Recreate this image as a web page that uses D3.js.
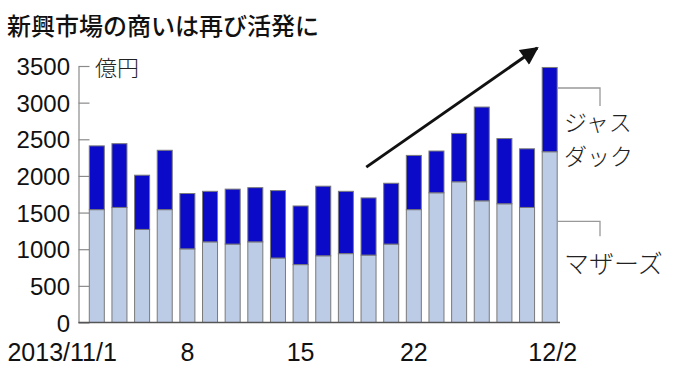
<!DOCTYPE html>
<html><head><meta charset="utf-8">
<script src="https://cdn.jsdelivr.net/npm/d3@7"></script>
<style>
html,body{margin:0;padding:0;background:#fff;}
svg{display:block;}
</style></head>
<body>
<svg id="c" width="680" height="378"></svg>
<script>
const dates = ["11/1","11/5","11/6","11/7","11/8","11/11","11/12","11/13","11/14","11/15","11/18","11/19","11/20","11/21","11/22","11/25","11/26","11/27","11/28","11/29","12/2"];
const mothers = [1540,1570,1270,1540,1005,1100,1070,1100,880,790,910,940,920,1070,1540,1770,1920,1660,1620,1570,2330];
const totals  = [2410,2440,2010,2350,1760,1790,1820,1840,1800,1590,1860,1790,1700,1900,2280,2340,2580,2940,2510,2370,3480];
const jasdaq = totals.map((t,i)=>t-mothers[i]);
const yTicks = [0,500,1000,1500,2000,2500,3000,3500];
const xLabels = {"11/1":"2013/11/1","11/8":"8","11/15":"15","11/22":"22","12/2":"12/2"};
const seriesNames = ["マザーズ","ジャスダック"];

const svg = d3.select("#c");
const CJK = "'Noto Sans CJK JP','Noto Sans',sans-serif";
const NUM = "'Liberation Sans',Arial,sans-serif";

const y = d3.scaleLinear().domain([0,3500]).range([322.5,66]);
const x = d3.scaleBand().domain(dates).range([82.5,564]).paddingInner(0.337).paddingOuter(0.3);

// title
svg.append("text").attr("x",7).attr("y",24).attr("dominant-baseline","central")
  .style("font-family",CJK).style("font-size","24px").style("font-weight","500").attr("fill","#111")
  .text("新興市場の商いは再び活発に");

// y axis
const yAxis = d3.axisLeft(y).tickValues(yTicks).tickFormat(d3.format("d")).tickSizeInner(-11).tickSizeOuter(0).tickPadding(8.5);
const gy = svg.append("g").attr("transform","translate(78.5,0)").call(yAxis);
gy.select(".domain").attr("stroke","#8a8a8a").attr("stroke-width",1.2);
gy.selectAll(".tick line").attr("stroke","#8a8a8a").attr("stroke-width",1.2);
gy.selectAll(".tick text").style("font-family",NUM).style("font-size","24px").attr("fill","#111")
  .attr("dy",null).attr("dominant-baseline","central");
svg.append("text").attr("x",95).attr("y",y(3500)).attr("dominant-baseline","central")
  .style("font-family",CJK).style("font-size","22px").style("font-weight","300").attr("fill","#222").text("億円");

// stacked bars
const stackData = dates.map((d,i)=>({date:d, m:mothers[i], j:jasdaq[i]}));
const stack = d3.stack().keys(["m","j"])(stackData);
const colors = ["#bccbe6","#0a0ac8"];
svg.append("g").selectAll("g").data(stack).join("g").attr("fill",(d,i)=>colors[i])
  .selectAll("rect").data(d=>d).join("rect")
  .attr("x",d=>x(d.data.date)).attr("width",x.bandwidth())
  .attr("y",d=>y(d[1])).attr("height",d=>y(d[0])-y(d[1]))
  .attr("stroke","#7a7a7a").attr("stroke-width",1);

// baseline
svg.append("line").attr("x1",78.5).attr("x2",560).attr("y1",y(0)).attr("y2",y(0))
  .attr("stroke","#555").attr("stroke-width",1.3);

// x axis labels
const xAxis = d3.axisBottom(x).tickValues(Object.keys(xLabels)).tickFormat(d=>xLabels[d]).tickSize(0).tickPadding(0);
const gx = svg.append("g").attr("transform","translate(0,352)").call(xAxis);
gx.select(".domain").remove();
gx.selectAll(".tick text").style("font-family",NUM).style("font-size","25px").attr("fill","#111")
  .attr("dy",null).attr("dominant-baseline","central");
gx.selectAll(".tick text").filter(d=>d==="11/1").attr("text-anchor","end").attr("x",20);
gx.selectAll(".tick text").filter(d=>d==="12/2").attr("x",3);

// legend leaders
const last = dates[dates.length-1];
const lx0 = x(last)+x.bandwidth();
const leaders = [{v:3200, drop:18},{v:1380, drop:15}];
leaders.forEach(l=>{
  const yy = y(l.v);
  svg.append("path").attr("d",`M${lx0},${yy}H600V${yy+l.drop}`).attr("fill","none")
    .attr("stroke","#999").attr("stroke-width",1.3);
});
const jt = svg.append("text").attr("dominant-baseline","central")
  .style("font-family",CJK).style("font-size","23px").style("font-weight","300").attr("fill","#222");
jt.append("tspan").attr("x",564).attr("y",120.5).text(seriesNames[1].slice(0,3));
jt.append("tspan").attr("x",564).attr("y",154.5).text(seriesNames[1].slice(3));
svg.append("text").attr("x",564).attr("y",262).attr("dominant-baseline","central")
  .style("font-family",CJK).style("font-size","25px").style("font-weight","300").attr("fill","#222").text(seriesNames[0]);

// trend arrow (annotation, in data terms: bar index & value)
const xi = i => x(dates[0]) + x.bandwidth()/2 + i*x.step();
const a0 = {i:11.9, v:2120}, a1 = {i:19.45, v:3745};
svg.append("defs").append("marker").attr("id","ah").attr("viewBox","0 0 10 10")
  .attr("refX",9).attr("refY",5).attr("markerWidth",6.5).attr("markerHeight",6).attr("orient","auto")
  .attr("markerUnits","strokeWidth")
  .append("path").attr("d","M0,0L10,5L0,10Z").attr("fill","#111");
svg.append("line").attr("x1",xi(a0.i)).attr("y1",y(a0.v)).attr("x2",xi(a1.i)).attr("y2",y(a1.v))
  .attr("stroke","#111").attr("stroke-width",3).attr("marker-end","url(#ah)");
</script>
</body></html>
